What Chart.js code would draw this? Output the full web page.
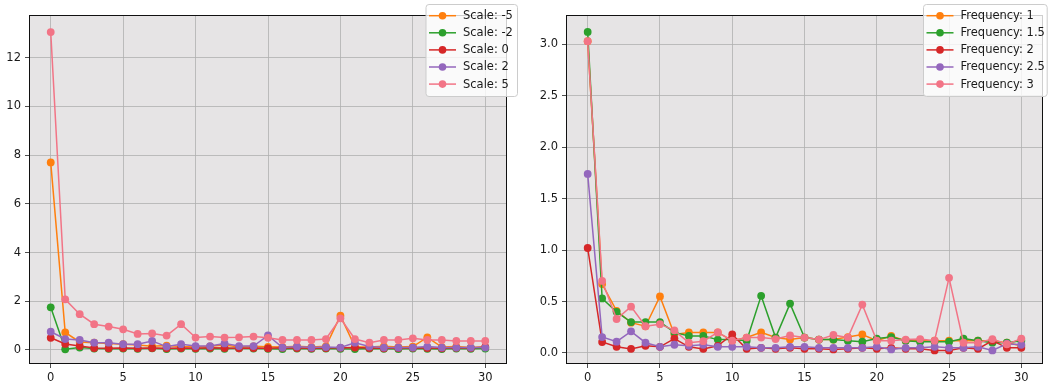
<!DOCTYPE html>
<html>
<head>
<meta charset="utf-8">
<script src="https://cdn.jsdelivr.net/npm/chart.js@4/dist/chart.umd.min.js"></script>
<style>
  html, body { margin: 0; padding: 0; background: #fff; }
  #wrap { position: relative; width: 1049px; height: 385px; }
  .box { position: absolute; top: 0; height: 385px; }
</style>
</head>
<body>
<div id="wrap">
  <div class="box" style="left:0;width:524px"><canvas id="scaleChart"></canvas></div>
  <div class="box" style="left:524px;width:525px"><canvas id="freqChart"></canvas></div>
</div>
<script>
// x positions shared by every series
const steps = [0, 1, 2, 3, 4, 5, 6, 7, 8, 9, 10, 11, 12, 13, 14, 15, 16, 17, 18, 19, 20, 21, 22, 23, 24, 25, 26, 27, 28, 29, 30];

// left panel
const scaleLabels = ['Scale: -5', 'Scale: -2', 'Scale: 0', 'Scale: 2', 'Scale: 5'];
const scaleM5 = [7.7, 0.72, 0.33, 0.3, 0.27, 0.24, 0.2, 0.15, 0.18, 0.14, 0.12, 0.15, 0.2, 0.12, 0.15, 0.13, 0.12, 0.15, 0.12, 0.15, 1.41, 0.13, 0.12, 0.15, 0.12, 0.14, 0.52, 0.12, 0.14, 0.1, 0.12];
const scaleM2 = [1.75, 0.03, 0.1, 0.06, 0.05, 0.06, 0.05, 0.07, 0.04, 0.06, 0.05, 0.06, 0.05, 0.07, 0.06, 0.05, 0.04, 0.06, 0.05, 0.06, 0.05, 0.04, 0.06, 0.05, 0.04, 0.06, 0.05, 0.04, 0.06, 0.05, 0.06];
const scale0 = [0.5, 0.25, 0.16, 0.08, 0.07, 0.08, 0.07, 0.08, 0.07, 0.08, 0.07, 0.09, 0.08, 0.07, 0.08, 0.07, 0.09, 0.08, 0.07, 0.08, 0.09, 0.1, 0.08, 0.07, 0.08, 0.09, 0.08, 0.07, 0.09, 0.08, 0.12];
const scale2 = [0.75, 0.45, 0.41, 0.3, 0.3, 0.24, 0.24, 0.37, 0.14, 0.24, 0.16, 0.16, 0.27, 0.16, 0.16, 0.6, 0.1, 0.14, 0.1, 0.12, 0.1, 0.3, 0.14, 0.1, 0.1, 0.1, 0.14, 0.1, 0.1, 0.1, 0.1];
const scale5 = [13.05, 2.08, 1.47, 1.06, 0.96, 0.85, 0.66, 0.68, 0.59, 1.06, 0.51, 0.55, 0.51, 0.52, 0.55, 0.5, 0.41, 0.41, 0.41, 0.45, 1.3, 0.45, 0.3, 0.41, 0.41, 0.48, 0.41, 0.41, 0.37, 0.37, 0.37];
const scaleYTicks = [0, 2, 4, 6, 8, 10, 12];

// right panel
const freqLabels = ['Frequency: 1', 'Frequency: 1.5', 'Frequency: 2', 'Frequency: 2.5', 'Frequency: 3'];
const freq1 = [3.03, 0.67, 0.41, 0.295, 0.26, 0.55, 0.18, 0.2, 0.2, 0.2, 0.12, 0.15, 0.2, 0.15, 0.13, 0.15, 0.13, 0.13, 0.155, 0.18, 0.12, 0.165, 0.12, 0.12, 0.12, 0.12, 0.12, 0.12, 0.12, 0.1, 0.07];
const freq15 = [3.12, 0.53, 0.4, 0.3, 0.3, 0.3, 0.2, 0.165, 0.165, 0.13, 0.13, 0.12, 0.555, 0.15, 0.48, 0.15, 0.13, 0.13, 0.12, 0.11, 0.14, 0.155, 0.12, 0.11, 0.11, 0.11, 0.14, 0.12, 0.1, 0.1, 0.12];
const freq2 = [1.02, 0.107, 0.06, 0.04, 0.07, 0.06, 0.14, 0.06, 0.04, 0.07, 0.18, 0.04, 0.05, 0.04, 0.05, 0.04, 0.04, 0.035, 0.04, 0.05, 0.04, 0.05, 0.04, 0.04, 0.025, 0.025, 0.05, 0.04, 0.12, 0.05, 0.05];
const freq25 = [1.74, 0.155, 0.11, 0.21, 0.1, 0.06, 0.08, 0.07, 0.08, 0.06, 0.06, 0.06, 0.05, 0.05, 0.06, 0.06, 0.05, 0.05, 0.05, 0.05, 0.06, 0.035, 0.05, 0.05, 0.06, 0.05, 0.05, 0.06, 0.025, 0.09, 0.08];
const freq3 = [3.03, 0.7, 0.33, 0.45, 0.26, 0.28, 0.22, 0.1, 0.115, 0.2, 0.12, 0.15, 0.15, 0.135, 0.17, 0.15, 0.13, 0.175, 0.15, 0.47, 0.12, 0.12, 0.13, 0.135, 0.12, 0.73, 0.1, 0.1, 0.135, 0.085, 0.14];
const freqYTicks = [0, 0.5, 1.0, 1.5, 2.0, 2.5, 3.0];

const xTicks = [0, 5, 10, 15, 20, 25, 30];
const colors = ['#ff7f0e', '#2ca02c', '#d62728', '#9467bd', '#f27486'];

const FONT = "'DejaVu Sans', sans-serif";
Chart.defaults.font.family = FONT;
Chart.defaults.font.size = 11.5;
Chart.defaults.color = '#1a1a1a';

const panelBackground = {
  id: 'panelBackground',
  beforeDraw(chart) {
    const a = chart.chartArea;
    const ctx = chart.ctx;
    ctx.save();
    ctx.fillStyle = '#e6e4e5';
    ctx.fillRect(a.left, a.top, a.right - a.left, a.bottom - a.top);
    ctx.restore();
  },
  afterDatasetsDraw(chart) {
    const a = chart.chartArea;
    const ctx = chart.ctx;
    ctx.save();
    ctx.strokeStyle = '#111';
    ctx.lineWidth = 1;
    ctx.strokeRect(Math.round(a.left) + 0.5, Math.round(a.top) + 0.5,
      Math.round(a.right - a.left) - 1, Math.round(a.bottom - a.top) - 1);
    ctx.restore();
  }
};

// matplotlib-style legend sitting over the top right corner
const cornerLegend = {
  id: 'cornerLegend',
  afterDraw(chart, args, opts) {
    const ctx = chart.ctx;
    const a = chart.chartArea;
    const x0 = a.right - opts.back + 0.5;
    const y0 = 4.5;
    const w = opts.width;
    const h = 92;
    ctx.save();
    ctx.beginPath();
    ctx.roundRect(x0, y0, w, h, 3);
    ctx.fillStyle = 'rgba(255,255,255,0.8)';
    ctx.fill();
    ctx.strokeStyle = '#cccccc';
    ctx.lineWidth = 1;
    ctx.stroke();
    ctx.font = '11.5px ' + FONT;
    ctx.textBaseline = 'middle';
    chart.data.datasets.forEach((ds, i) => {
      const y = 15.7 + i * 17.1;
      ctx.strokeStyle = ds.borderColor;
      ctx.lineWidth = 1.5;
      ctx.beginPath();
      ctx.moveTo(x0 + 3, y);
      ctx.lineTo(x0 + 30, y);
      ctx.stroke();
      ctx.fillStyle = ds.borderColor;
      ctx.beginPath();
      ctx.arc(x0 + 16.5, y, 3.8, 0, Math.PI * 2);
      ctx.fill();
      ctx.fillStyle = '#1a1a1a';
      ctx.fillText(ds.label, x0 + 37, y + 0.5);
    });
    ctx.restore();
  }
};

function buildDatasets(labels, series) {
  return series.map((values, i) => ({
    label: labels[i],
    data: steps.map((s, j) => ({ x: s, y: values[j] })),
    borderColor: colors[i],
    backgroundColor: colors[i],
    pointBackgroundColor: colors[i],
    pointBorderWidth: 0,
    pointRadius: 3.9,
    borderWidth: 1.5,
    tension: 0,
    order: series.length - 1 - i
  }));
}

function makeChart(id, labels, series, yTicks, yMin, yMax, yWidth, padRight, legendBack, legendWidth, fmt) {
  const ctx = document.getElementById(id).getContext('2d');
  return new Chart(ctx, {
    type: 'line',
    data: { datasets: buildDatasets(labels, series) },
    options: {
      responsive: true,
      maintainAspectRatio: false,
      animation: false,
      layout: { padding: { left: 0, right: padRight, top: 15, bottom: 0 } },
      plugins: {
        legend: { display: false },
        tooltip: { enabled: false },
        cornerLegend: { back: legendBack, width: legendWidth }
      },
      scales: {
        x: {
          type: 'linear',
          min: -1.5,
          max: 31.5,
          afterBuildTicks: s => { s.ticks = xTicks.map(v => ({ value: v })); },
          afterFit: s => { s.height = 21; },
          border: { display: false },
          grid: { color: '#b0b0b0', lineWidth: 0.8, tickColor: '#222', tickLength: 4 },
          ticks: { padding: 3, maxRotation: 0, callback: v => String(v) }
        },
        y: {
          type: 'linear',
          min: yMin,
          max: yMax,
          afterBuildTicks: s => { s.ticks = yTicks.map(v => ({ value: v })); },
          afterFit: s => { s.width = yWidth; },
          border: { display: false },
          grid: { color: '#b0b0b0', lineWidth: 0.8, tickColor: '#222', tickLength: 4 },
          ticks: { padding: 4, callback: fmt }
        }
      }
    },
    plugins: [panelBackground, cornerLegend]
  });
}

makeChart('scaleChart', scaleLabels, [scaleM5, scaleM2, scale0, scale2, scale5],
  scaleYTicks, -0.575, 13.75, 29, 17, 81.5, 91.5, v => String(v));
makeChart('freqChart', freqLabels, [freq1, freq15, freq2, freq25, freq3],
  freqYTicks, -0.107, 3.284, 42, 6, 120, 123.7, v => v.toFixed(1));
</script>
</body>
</html>
